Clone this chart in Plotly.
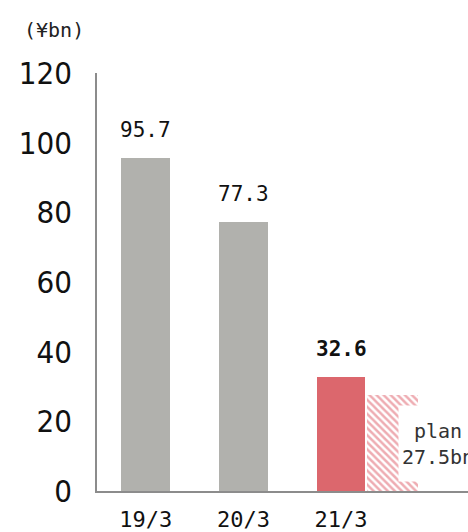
import plotly.graph_objects as go

categories = ["19/3", "20/3", "21/3"]
values = [95.7, 77.3, 32.6]
value_labels = ["95.7", "77.3", "<b>32.6</b>"]
bar_colors = ["#b1b1ad", "#b1b1ad", "#dc676d"]
plan_value = 27.5
plan_label = "plan<br>27.5bn"
yticks = [0, 20, 40, 60, 80, 100, 120]

MONO = "DejaVu Sans Mono, Liberation Mono, monospace"
NARROW = "Liberation Sans Narrow, DejaVu Sans Condensed, sans-serif"

x_pos = list(range(len(categories)))

fig = go.Figure()
fig.add_trace(go.Bar(
    x=x_pos, y=values, width=0.5,
    marker=dict(color=bar_colors, line=dict(width=0)),
    showlegend=False,
))
fig.add_trace(go.Bar(
    x=[x_pos[-1] + 0.528], y=[plan_value], width=0.52,
    marker=dict(color="white",
                pattern=dict(shape="\\", fgcolor="#de5a65", bgcolor="white",
                             size=5, solidity=0.5),
                line=dict(width=0)),
    showlegend=False, hoverinfo="skip",
))

for xp, v, lab in zip(x_pos, values, value_labels):
    fig.add_annotation(x=xp, y=v, xref="x", yref="y", text=lab,
                       showarrow=False, yanchor="bottom", yshift=14,
                       font=dict(family=MONO, size=21, color="#111"))

fig.add_annotation(x=x_pos[-1] + 0.584, y=plan_value / 2, xref="x", yref="y",
                   xanchor="left", yanchor="middle", text=plan_label,
                   showarrow=False, bgcolor="white", borderpad=0,
                   width=78, height=75,
                   font=dict(family=MONO, size=20, color="#333"), align="center")
fig.add_annotation(x=(54 - 97) / 371, y=(532 - 30 - 39) / 420, xref="paper", yref="paper",
                   xanchor="center", yanchor="middle",
                   text="(¥bn)", showarrow=False,
                   font=dict(family=MONO, size=20, color="#222"))

fig.update_layout(
    width=468, height=532,
    margin=dict(l=97, r=0, t=73, b=39),
    plot_bgcolor="white", paper_bgcolor="white",
    bargap=0,
    xaxis=dict(range=[-0.5, 3.3], tickvals=x_pos, ticktext=categories,
               showgrid=False, zeroline=False, showline=True,
               linecolor="#8c8c8c", linewidth=2, ticks="",
               ticklabelstandoff=8,
               tickfont=dict(family=MONO, size=22, color="#111")),
    yaxis=dict(range=[0, 120], tickvals=yticks, showgrid=False, zeroline=False,
               showline=True, linecolor="#8c8c8c", linewidth=1.5, ticks="",
               ticklabelstandoff=17,
               tickfont=dict(family=NARROW, size=31, color="#111")),
)

fig.write_html("out.html")
